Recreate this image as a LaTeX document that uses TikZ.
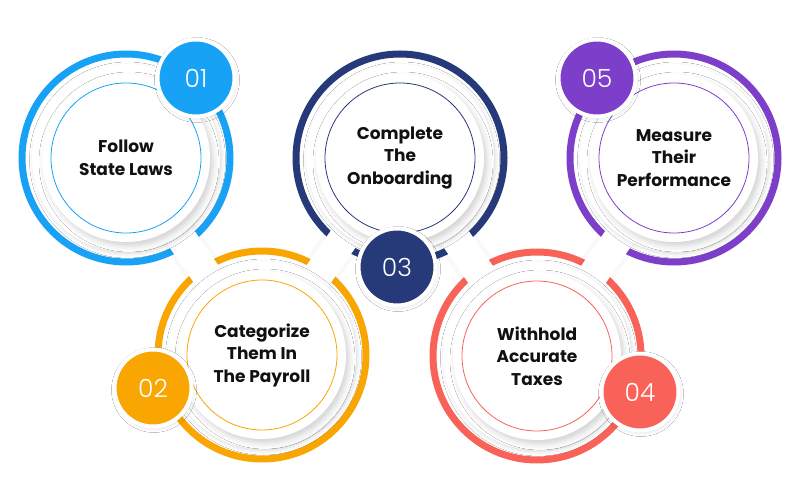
\documentclass[tikz,border=0pt]{standalone}
\usepackage{fontspec}
\setmainfont{Poppins}
\newfontfamily\numfont{Poppins Light}
\usetikzlibrary{shadows.blur}
\definecolor{cblue}{RGB}{24,162,245}
\definecolor{corange}{RGB}{249,166,2}
\definecolor{cnavy}{RGB}{38,58,122}
\definecolor{ccoral}{RGB}{248,98,89}
\definecolor{cpurple}{RGB}{125,63,201}
\definecolor{ctext}{RGB}{17,17,17}
\begin{document}
\begin{tikzpicture}[x=1pt,y=-1pt,
  ring/.style={line width=7pt},
  bandshade/.style={line width=38pt, black, opacity=0.025, line join=round},
  band/.style={line width=30pt, white, line join=round},
  outerdisk/.style={fill=white, blur shadow={shadow blur radius=4pt, shadow xshift=1.5pt, shadow yshift=-2pt, shadow opacity=14}},
  innerdisk/.style={fill=white, blur shadow={shadow blur radius=6pt, shadow xshift=3pt, shadow yshift=-4pt, shadow opacity=18}},
  thin/.style={line width=0.8pt},
  txt/.style={align=center, text=ctext, font=\bfseries\fontsize{17}{22.5}\selectfont, inner sep=0pt},
  badge/.style={circle, minimum size=77pt, inner sep=0pt, draw=white, line width=4pt, text=white, font=\numfont\fontsize{25}{25}\selectfont, blur shadow={shadow blur radius=4pt, shadow xshift=1pt, shadow yshift=-2pt, shadow opacity=14}}
]
\useasboundingbox[fill=white] (0,0) rectangle (800,500);
\coordinate (c1) at (126,158);
\coordinate (c2) at (262,355);
\coordinate (c3) at (400,158);
\coordinate (c4) at (537,356);
\coordinate (c5) at (674,158);

% coloured rings
\draw[ring, cblue] (c1) circle[radius=104pt];
\draw[ring, corange] (c2) circle[radius=104pt];
\draw[ring, cnavy] (c3) circle[radius=104pt];
\draw[ring, ccoral] (c4) circle[radius=104pt];
\draw[ring, cpurple] (c5) circle[radius=104pt];

% white connecting bands
\draw[bandshade] (c1) -- (c2) -- (c3) -- (c4) -- (c5);
\draw[band] (c1) -- (c2) -- (c3) -- (c4) -- (c5);

% disks
\foreach \c/\col in {c1/cblue, c2/corange, c3/cnavy, c4/ccoral, c5/cpurple}{
  \fill[outerdisk] (\c) circle[radius=94pt];
  \fill[innerdisk] (\c) circle[radius=84pt];
  \draw[thin, \col] (\c) circle[radius=75pt];
}

% texts
\node[txt] (t1) at (c1) {Follow\\State Laws};
\node[txt] (t2) at (c2) {Categorize\\Them In\\The Payroll};
\node[txt] (t3) at (c3) {Complete\\The\\Onboarding};
\node[txt] (t4) at (c4) {Withhold\\Accurate\\Taxes};
\node[txt] (t5) at (c5) {Measure\\Their\\Performance};

% number badges
\node[badge, fill=cblue] (b1) at (196,78) {01};
\node[badge, fill=corange] (b2) at (153,388) {02};
\node[badge, fill=cnavy] (b3) at (397,267) {03};
\node[badge, fill=ccoral] (b4) at (640,392) {04};
\node[badge, fill=cpurple] (b5) at (597,78) {05};
\end{tikzpicture}
\end{document}
